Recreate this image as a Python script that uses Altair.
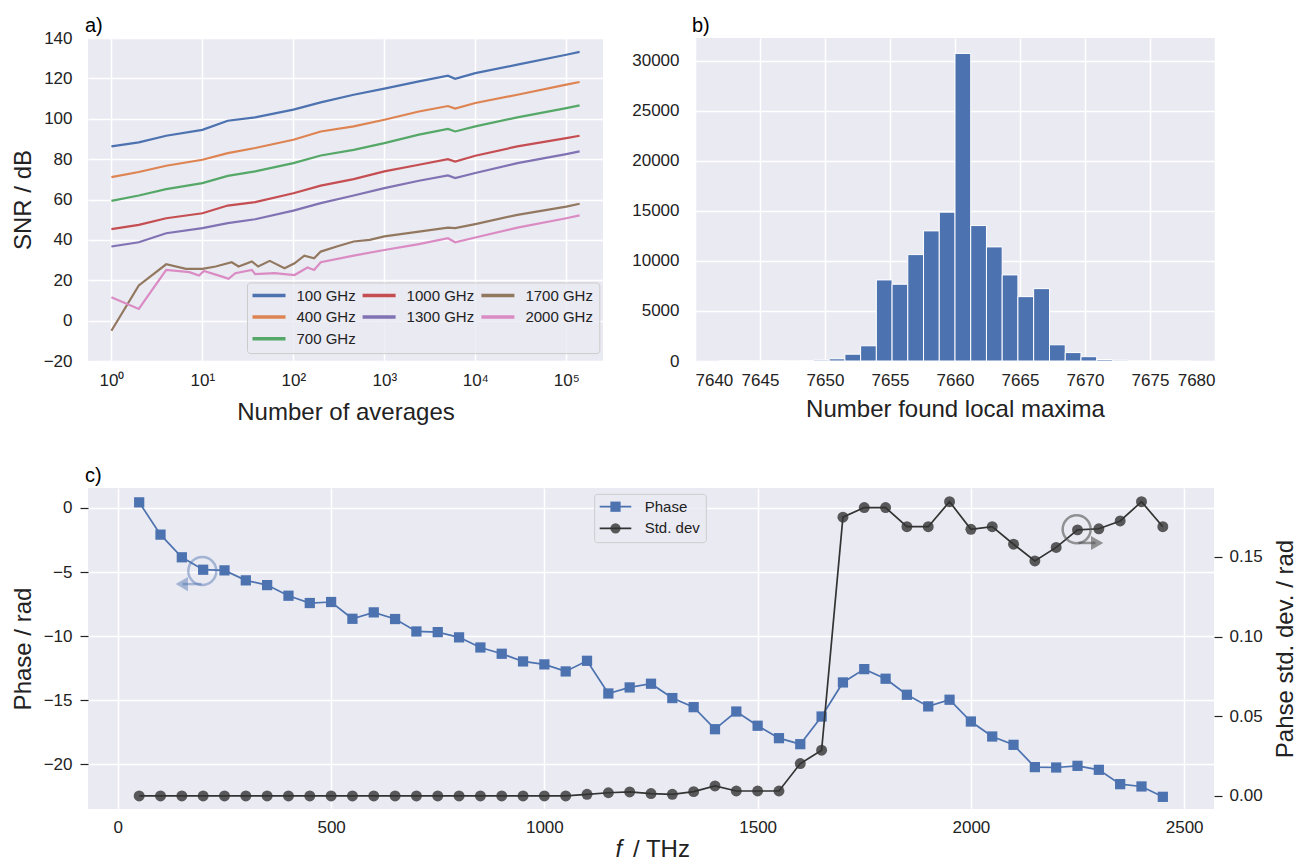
import altair as alt
import pandas as pd

FONT = "Liberation Sans"
BG = "#EAEAF2"
TXT = "#222222"
BLUE = "#4C72B0"
DARK = "#333333"

# ---------------- panel a: SNR vs number of averages ----------------
averages = [1, 2, 4, 10, 19, 38, 100, 200, 460, 1000, 2400, 5000, 6000, 10000, 29000, 100000, 140000]
snr_100 = [86.3, 88.3, 91.6, 94.5, 99.0, 100.7, 104.5, 108.1, 111.9, 114.9, 118.5, 121.3, 119.8, 122.6, 126.8, 131.7, 133.1]
snr_400 = [71.1, 73.6, 76.7, 79.7, 83.0, 85.5, 89.6, 93.7, 96.2, 99.5, 103.6, 106.3, 105.0, 107.8, 111.9, 116.9, 118.2]
snr_700 = [59.3, 62.0, 65.1, 68.1, 71.7, 73.9, 78.0, 81.8, 84.6, 87.9, 92.1, 95.0, 93.7, 96.2, 100.7, 105.3, 106.6]
snr_1000 = [45.3, 47.4, 50.7, 53.2, 57.0, 58.7, 63.1, 66.9, 70.1, 73.9, 77.2, 80.0, 78.8, 81.7, 86.3, 90.4, 91.6]
snr_1300 = [36.7, 38.8, 43.3, 45.8, 48.3, 50.2, 54.5, 58.2, 62.0, 65.6, 69.3, 71.9, 70.6, 73.1, 78.0, 82.5, 83.8]
averages_1700 = [1, 2, 4, 6.6, 10, 14, 21, 25, 35, 41, 55, 80, 103, 132, 169, 200, 300, 460, 690,
                 1000, 2400, 5000, 6000, 10000, 29000, 100000, 140000]
snr_1700 = [-5.0, 17.4, 27.9, 25.6, 25.6, 26.8, 28.9, 26.8, 29.3, 26.8, 29.6, 25.9, 28.4, 32.2, 30.9, 34.2,
            36.7, 39.2, 40.0, 41.7, 44.1, 46.1, 45.8, 47.8, 52.4, 56.5, 57.9]
averages_2000 = [1, 2, 4, 7.2, 9.2, 10.4, 16.5, 19.4, 23, 35, 38, 62, 103, 143, 169, 200, 460,
                 1000, 2400, 5000, 6000, 10000, 29000, 100000, 140000]
snr_2000 = [11.6, 5.8, 25.1, 24.0, 22.3, 24.6, 21.8, 20.7, 23.5, 25.1, 23.0, 23.5, 22.6, 26.3, 25.1, 28.9,
            32.2, 35.0, 37.9, 40.8, 38.8, 41.2, 46.1, 50.7, 52.1]

series_names = ["100 GHz", "400 GHz", "700 GHz", "1000 GHz", "1300 GHz", "1700 GHz", "2000 GHz"]
series_colors = ["#4C72B0", "#DD8452", "#55A868", "#C44E52", "#8172B3", "#937860", "#DA8BC3"]
series_x = [averages, averages, averages, averages, averages, averages_1700, averages_2000]
series_y = [snr_100, snr_400, snr_700, snr_1000, snr_1300, snr_1700, snr_2000]
legend_a_col = [0, 0, 0, 1, 1, 2, 2]
legend_a_row = [0, 1, 2, 0, 1, 0, 1]
a_ticks = [1, 10, 100, 1000, 10000, 100000]
a_yticks = [-20, 0, 20, 40, 60, 80, 100, 120, 140]

# ---------------- panel b: histogram ----------------
bin_edges = [7641.85, 7643.06, 7644.27, 7645.48, 7646.69, 7647.90, 7649.11, 7650.32, 7651.53, 7652.74,
             7653.95, 7655.16, 7656.37, 7657.58, 7658.79, 7660.00, 7661.21, 7662.42, 7663.63, 7664.84,
             7666.05, 7667.27, 7668.48, 7669.69, 7670.90, 7672.11, 7673.32, 7674.53, 7675.74, 7676.95,
             7678.16]
bin_counts = [2, 3, 5, 10, 15, 40, 90, 220, 680, 1520, 8100, 7670, 10630, 13000, 14870, 30730, 13530,
              11400, 8600, 6430, 7230, 1620, 840, 430, 150, 80, 20, 10, 5, 5]
b_xticks = [7640, 7645, 7650, 7655, 7660, 7665, 7670, 7675, 7680]
b_yticks = [0, 5000, 10000, 15000, 20000, 25000, 30000]

# ---------------- panel c: phase and std. dev. ----------------
freq = [50, 100, 150, 200, 250, 300, 350, 400, 450, 500, 550, 600, 650, 700, 750, 800, 850, 900, 950,
        1000, 1050, 1100, 1150, 1200, 1250, 1300, 1350, 1400, 1450, 1500, 1550, 1600, 1650, 1700, 1750,
        1800, 1850, 1900, 1950, 2000, 2050, 2100, 2150, 2200, 2250, 2300, 2350, 2400, 2450]
phase = [0.44, -2.08, -3.85, -4.82, -4.87, -5.65, -6.02, -6.85, -7.42, -7.34, -8.65, -8.15, -8.67, -9.64,
         -9.69, -10.1, -10.89, -11.38, -11.98, -12.21, -12.76, -11.93, -14.48, -14.01, -13.72, -14.84,
         -15.55, -17.27, -15.89, -17.0, -17.97, -18.44, -16.28, -13.62, -12.58, -13.33, -14.58, -15.49,
         -14.97, -16.67, -17.84, -18.49, -20.23, -20.26, -20.13, -20.44, -21.56, -21.74, -22.55]
std_dev = [0.0, 0.0, 0.0, 0.0, 0.0, 0.0, 0.0, 0.0, 0.0, 0.0, 0.0, 0.0, 0.0, 0.0, 0.0, 0.0, 0.0, 0.0, 0.0,
           0.0, 0.0, 0.001, 0.002, 0.0025, 0.0015, 0.001, 0.0027, 0.0063, 0.0031, 0.0031, 0.0031, 0.0203,
           0.0287, 0.175, 0.181, 0.181, 0.169, 0.169, 0.1847, 0.1674, 0.169, 0.158, 0.1475, 0.156, 0.167,
           0.1677, 0.1726, 0.1847, 0.169]
c_xticks = [0, 500, 1000, 1500, 2000, 2500]
c_yticks = [-20, -15, -10, -5, 0]
c_y2ticks = [0.0, 0.05, 0.10, 0.15]
# annotation markers (circle + arrow), in data units
ann_phase = {"f": [198], "phase": [-4.92], "arrow_f": [196], "arrow_f2": [152], "arrow_y": [-5.94], "head_f": [150]}
ann_std = {"f": [2248], "std": [0.1674], "arrow_f": [2252], "arrow_f2": [2292], "arrow_y": [0.1588], "head_f": [2296]}

legend_c_names = ["Phase", "Std. dev"]
panel_labels = ["a)", "b)", "c)"]


def one():
    return pd.DataFrame({"k": [0]})


def panel_label(text):
    return alt.Chart(one()).mark_text(align="left", baseline="alphabetic", font=FONT, fontSize=20,
                                      color="black").encode(
        x=alt.value(-3), y=alt.value(-6), text=alt.value(text))


# ======== panel a ========
rows = []
for name, xs, ys in zip(series_names, series_x, series_y):
    for i, (xv, yv) in enumerate(zip(xs, ys)):
        rows.append({"series": name, "n": xv, "snr": yv, "i": i})
df_a = pd.DataFrame(rows)

lines_a = alt.Chart(df_a).mark_line(strokeWidth=2.2).encode(
    x=alt.X("n:Q", scale=alt.Scale(type="log", domain=[10 ** -0.2573, 10 ** 5.4034], nice=False),
            axis=alt.Axis(values=a_ticks,
                          labelExpr="'10' + ['\u2070','\u00b9','\u00b2','\u00b3','\u2074','\u2075'][round(log(datum.value)/LN10)]",
                          title="Number of averages", titlePadding=12)),
    y=alt.Y("snr:Q", scale=alt.Scale(domain=[-20, 140], nice=False, zero=False),
            axis=alt.Axis(values=a_yticks, title="SNR / dB")),
    color=alt.Color("series:N", scale=alt.Scale(domain=series_names, range=series_colors), legend=None),
    order="i:Q",
)

leg_col_x = [164.5, 274.6, 393.4]
leg_row_y = [257.5, 279.0, 300.7]
leg_a = [alt.Chart(one()).mark_rect(fill=BG, fillOpacity=0.8, stroke="#cccccc", strokeWidth=1,
                                     cornerRadius=3).encode(
    x=alt.value(159.5), x2=alt.value(511.8), y=alt.value(245), y2=alt.value(315.6))]
for name, col, ci, ri in zip(series_names, series_colors, legend_a_col, legend_a_row):
    cx = leg_col_x[ci]
    ry = leg_row_y[ri]
    leg_a.append(alt.Chart(one()).mark_rule(color=col, strokeWidth=3.5).encode(
        x=alt.value(cx), x2=alt.value(cx + 33), y=alt.value(ry)))
    leg_a.append(alt.Chart(one()).mark_text(align="left", baseline="middle", font=FONT, fontSize=15,
                                            color=TXT).encode(
        x=alt.value(cx + 44), y=alt.value(ry), text=alt.value(name)))

chart_a = alt.layer(lines_a, *leg_a, panel_label(panel_labels[0])).properties(width=515, height=323)

# ======== panel b ========
df_b = pd.DataFrame({"left": bin_edges[:-1], "right": bin_edges[1:], "count": bin_counts})
bars_b = alt.Chart(df_b).mark_rect(color=BLUE, stroke="white", strokeWidth=1).encode(
    x=alt.X("left:Q", scale=alt.Scale(domain=[7640, 7680], nice=False, zero=False),
            axis=alt.Axis(values=b_xticks, format="d", title="Number found local maxima")),
    x2="right:Q",
    y=alt.Y("count:Q", scale=alt.Scale(domain=[0, 32270], nice=False),
            axis=alt.Axis(values=b_yticks, format="d", title=None)),
    y2=alt.datum(0),
)
chart_b = alt.layer(bars_b, panel_label(panel_labels[1])).properties(width=520, height=323)

# ======== panel c ========
df_c = pd.DataFrame({"f": freq, "phase": phase, "std": std_dev})
xsc = alt.Scale(domain=[-70, 2570], nice=False, zero=False)
xenc = alt.X("f:Q", scale=xsc, axis=alt.Axis(values=c_xticks, format="d", title=None, labelPadding=10))
ysc = alt.Scale(domain=[-23.5, 1.56], nice=False, zero=False)
y2sc = alt.Scale(domain=[-0.0082, 0.1933], nice=False, zero=False)

phase_line = alt.Chart(df_c).mark_line(color=BLUE, strokeWidth=1.7).encode(
    x=xenc,
    y=alt.Y("phase:Q", scale=ysc,
            axis=alt.Axis(values=c_yticks, title="Phase / rad", ticks=True, tickSize=8, tickColor=TXT,
                          tickWidth=1.2, labelPadding=8)))
phase_pts = alt.Chart(df_c).mark_point(shape="square", filled=True, size=105, color=BLUE, opacity=1).encode(
    x="f:Q", y="phase:Q")
df_ap = pd.DataFrame(ann_phase)
ap_circle = alt.Chart(df_ap).mark_point(shape="circle", filled=False, size=784, strokeWidth=2.5,
                                        color=BLUE, opacity=0.45).encode(x="f:Q", y="phase:Q")
ap_line = alt.Chart(df_ap).mark_rule(color=BLUE, strokeWidth=2.5, opacity=0.45).encode(
    x="arrow_f:Q", x2="arrow_f2:Q", y="arrow_y:Q")
ap_head = alt.Chart(df_ap).mark_point(shape="triangle-left", filled=True, size=200, color=BLUE,
                                      opacity=0.45).encode(x="head_f:Q", y="arrow_y:Q")
phase_layer = alt.layer(phase_line, phase_pts, ap_circle, ap_line, ap_head)

std_line = alt.Chart(df_c).mark_line(color=DARK, strokeWidth=1.7).encode(
    x="f:Q",
    y=alt.Y("std:Q", scale=y2sc,
            axis=alt.Axis(values=c_y2ticks, format=".2f", orient="right", grid=False,
                          title="Pahse std. dev. / rad", titleAngle=270, titleBaseline="top",
                          ticks=True, tickSize=8, tickColor=TXT, tickWidth=1.2, labelPadding=7,
                          titlePadding=11)))
std_pts = alt.Chart(df_c).mark_point(shape="circle", filled=True, size=120, color=DARK, opacity=0.8).encode(
    x="f:Q", y="std:Q")
df_as = pd.DataFrame(ann_std)
as_circle = alt.Chart(df_as).mark_point(shape="circle", filled=False, size=784, strokeWidth=2.5,
                                        color="#555555", opacity=0.6).encode(x="f:Q", y="std:Q")
as_line = alt.Chart(df_as).mark_rule(color="#555555", strokeWidth=2.5, opacity=0.6).encode(
    x="arrow_f:Q", x2="arrow_f2:Q", y="arrow_y:Q")
as_head = alt.Chart(df_as).mark_point(shape="triangle-right", filled=True, size=200, color="#555555",
                                      opacity=0.6).encode(x="head_f:Q", y="arrow_y:Q")
std_layer = alt.layer(std_line, std_pts, as_circle, as_line, as_head)

# legend of panel c
leg_c = [alt.Chart(one()).mark_rect(fill=BG, fillOpacity=0.8, stroke="#cccccc", strokeWidth=1,
                                     cornerRadius=3).encode(
    x=alt.value(506.7), x2=alt.value(618.3), y=alt.value(6.3), y2=alt.value(54.7))]
leg_c_rows = [18.7, 40.3]
leg_c_style = [(BLUE, "square", 1.0), (DARK, "circle", 0.8)]
for name, ry, (col, shp, op) in zip(legend_c_names, leg_c_rows, leg_c_style):
    leg_c.append(alt.Chart(one()).mark_rule(color=col, strokeWidth=1.7).encode(
        x=alt.value(511.7), x2=alt.value(543.3), y=alt.value(ry)))
    leg_c.append(alt.Chart(one()).mark_point(shape=shp, filled=True, size=105, color=col, opacity=op).encode(
        x=alt.value(527.5), y=alt.value(ry)))
    leg_c.append(alt.Chart(one()).mark_text(align="left", baseline="middle", font=FONT, fontSize=15,
                                            color=TXT).encode(
        x=alt.value(556.7), y=alt.value(ry), text=alt.value(name)))

xt_f = alt.Chart(one()).mark_text(align="left", baseline="alphabetic", font=FONT, fontSize=24,
                                  fontStyle="italic", color=TXT).encode(
    x=alt.value(527.5), y=alt.value(369), text=alt.value("f"))
xt_rest = alt.Chart(one()).mark_text(align="left", baseline="alphabetic", font=FONT, fontSize=24,
                                     color=TXT).encode(
    x=alt.value(545), y=alt.value(369), text=alt.value("/ THz"))

chart_c = alt.layer(phase_layer, std_layer, *leg_c, xt_f, xt_rest,
                    panel_label(panel_labels[2])).resolve_scale(
    y="independent").properties(width=1126, height=321)

top = alt.hconcat(chart_a, chart_b, spacing=28)
chart = alt.vconcat(top, chart_c, spacing=42).properties(
    padding={"left": 3, "top": 8, "right": 0, "bottom": 0}
).configure_view(fill=BG, stroke=None).configure_axis(
    domain=False, ticks=False, grid=True, gridColor="white", gridWidth=1.5,
    labelFont=FONT, labelFontSize=17, labelColor=TXT,
    titleFont=FONT, titleFontSize=24, titleFontWeight="normal", titleColor=TXT,
).configure_axisX(labelPadding=11, titlePadding=9).configure_axisY(labelPadding=16, titlePadding=8)

chart.save("out.html", embed_options={"renderer": "svg", "actions": False})
